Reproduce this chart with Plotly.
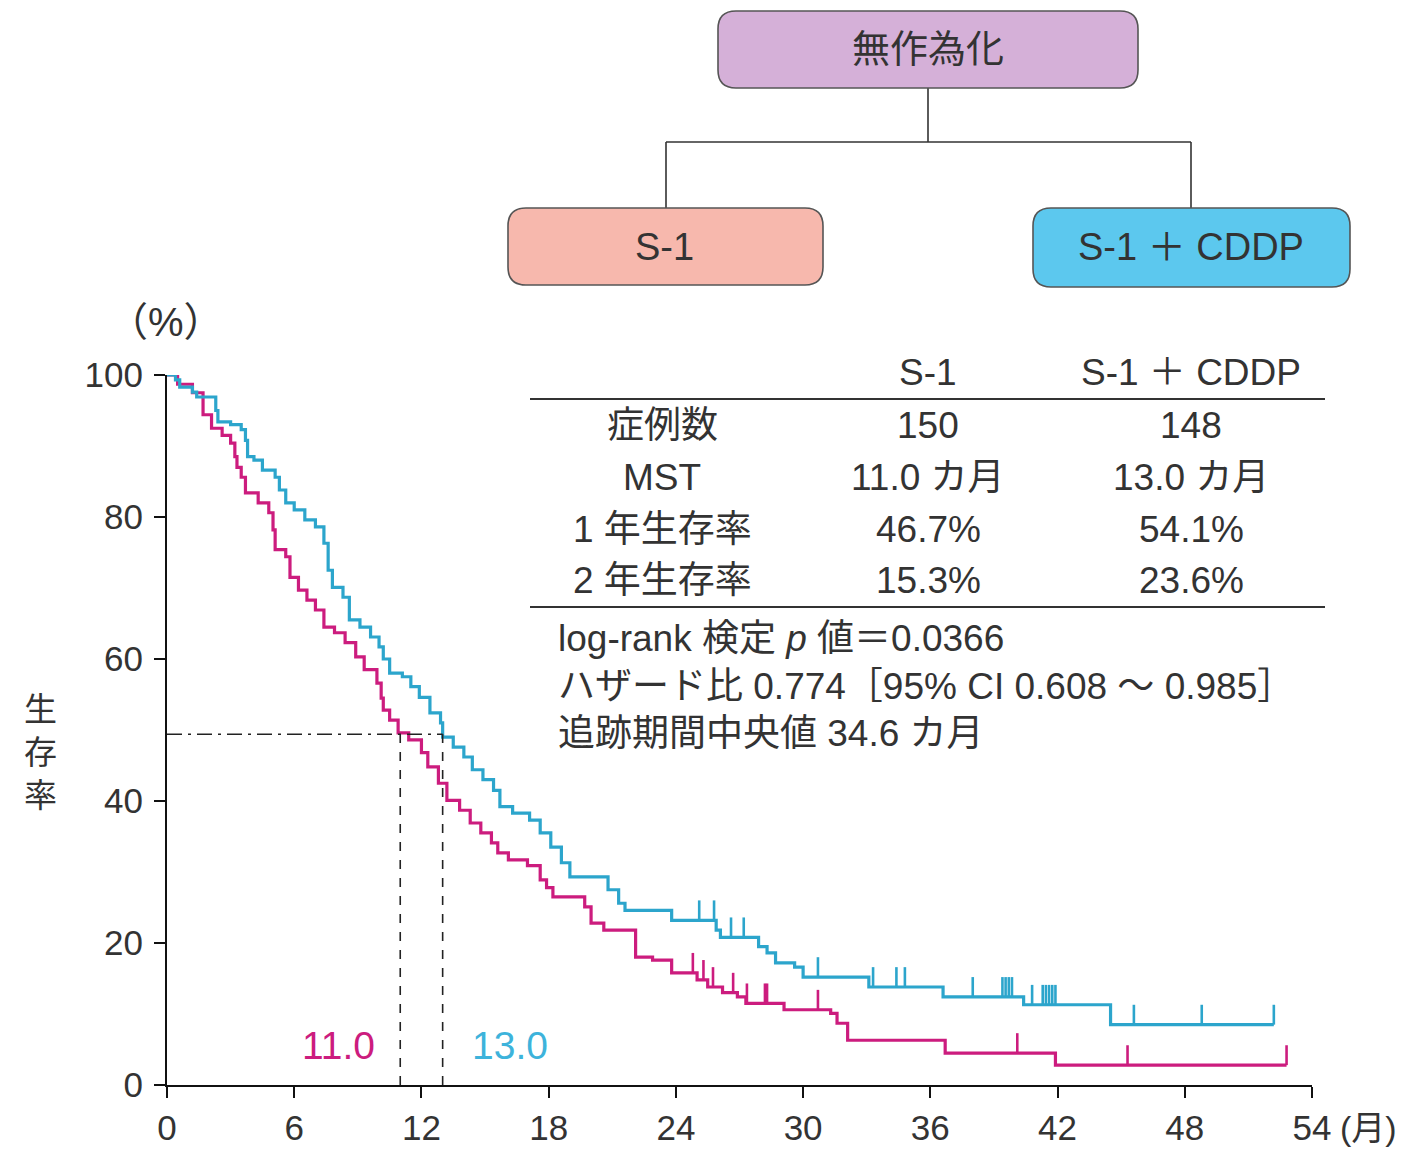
import plotly.graph_objects as go

# ---------------- data ----------------
months_ticks = [0, 6, 12, 18, 24, 30, 36, 42, 48, 54]
pct_ticks = [0, 20, 40, 60, 80, 100]

# S-1 arm: event times (months) and survival (%) after each drop
s1_times = [0.5, 1.2, 1.7, 2.1, 2.6, 3.0, 3.2, 3.3, 3.5, 3.7, 4.3, 4.8, 5.0, 5.1, 5.6,
            5.8, 6.2, 6.6, 7.0, 7.4, 7.9, 8.4, 8.9, 9.3, 9.9, 10.1, 10.2, 10.5, 10.9,
            11.4, 12.0, 12.3, 12.8, 13.2, 13.8, 14.3, 14.8, 15.3, 15.6, 16.1, 17.0,
            17.6, 17.9, 18.2, 19.7, 20.0, 20.6, 22.1, 22.9, 23.8, 25.0, 25.5, 26.2,
            26.9, 27.3, 29.1, 31.3, 31.6, 32.1, 36.7, 41.9]
s1_surv = [98.7, 97.5, 94.4, 92.5, 91.5, 90.4, 88.5, 87.0, 85.6, 83.4, 82.0, 80.6, 78.2,
           75.4, 74.4, 71.5, 69.7, 68.3, 66.9, 64.5, 63.7, 62.3, 60.3, 58.5, 56.6, 54.5,
           52.8, 51.4, 49.6, 48.6, 46.8, 44.8, 42.5, 40.1, 38.7, 36.9, 35.5, 34.1, 32.7,
           31.7, 30.9, 28.9, 27.8, 26.5, 25.1, 22.8, 21.8, 18.0, 17.6, 15.8, 14.8, 13.8,
           13.0, 12.4, 11.5, 10.6, 10.1, 8.7, 6.3, 4.5, 2.8]
s1_end = 52.8
s1_censor = [24.8, 25.3, 25.75, 26.7, 27.35, 28.2, 28.3, 30.7, 40.1, 45.3, 52.8]

# S-1 + CDDP arm
sc_times = [0.4, 0.6, 1.2, 1.4, 2.3, 2.4, 3.0, 3.5, 3.7, 3.8, 4.1, 4.5, 5.1, 5.3, 5.6,
            6.0, 6.5, 7.0, 7.4, 7.6, 7.8, 8.3, 8.6, 9.1, 9.6, 10.0, 10.2, 10.5, 11.1,
            11.5, 11.9, 12.4, 12.9, 13.0, 13.5, 14.0, 14.4, 14.9, 15.4, 15.7, 16.3,
            17.1, 17.6, 18.1, 18.6, 19.0, 20.8, 21.3, 21.6, 23.8, 25.9, 26.1, 27.9,
            28.3, 28.7, 29.6, 30.0, 33.1, 36.6, 40.4, 44.5]
sc_surv = [99.3, 98.3, 97.6, 96.9, 95.0, 93.4, 93.0, 92.3, 90.8, 88.5, 88.0, 86.6, 85.6,
           83.8, 82.0, 81.0, 79.6, 78.6, 76.3, 72.5, 70.1, 68.7, 65.5, 64.5, 63.1, 61.7,
           60.0, 58.0, 57.5, 56.1, 54.6, 52.4, 51.0, 49.0, 47.6, 46.2, 44.4, 43.0, 41.5,
           39.2, 38.3, 37.3, 35.5, 33.5, 31.3, 29.3, 27.5, 25.6, 24.6, 23.2, 21.8, 20.8,
           19.5, 18.6, 17.2, 16.6, 15.2, 13.8, 12.4, 11.3, 8.5]
sc_end = 52.2
sc_censor = [25.1, 25.8, 26.6, 27.2, 30.7, 33.3, 34.4, 34.8, 38.0, 39.4, 39.55, 39.7,
             39.85, 40.8, 41.3, 41.45, 41.6, 41.75, 41.9, 45.6, 48.8, 52.2]

median_s1 = 11.0
median_sc = 13.0
median_level = 49.4

table_cols = ["S-1", "S-1 ＋ CDDP"]
table_rows = ["症例数", "MST", "1 年生存率", "2 年生存率"]
table_s1 = ["150", "11.0 カ月", "46.7%", "15.3%"]
table_sc = ["148", "13.0 カ月", "54.1%", "23.6%"]
stats_lines = ["log-rank 検定 <i>p</i> 値＝0.0366",
               "ハザード比 0.774［95% CI 0.608 ～ 0.985］",
               "追跡期間中央値 34.6 カ月"]

box_top = "無作為化"
box_left = "S-1"
box_right = "S-1 ＋ CDDP"

# ---------------- layout helpers ----------------
W, H = 1418, 1150
L, R, T, B = 167, 1312, 375, 1085


def px(x):
    return (x - L) / (R - L)


def py(y):
    return (B - y) / (B - T)


MAG = "#CC1C7E"
CYA = "#2CA5CC"
CYA_TXT = "#3DB3DB"
TXT = "#333333"
FONT = "Liberation Sans, Arial, Noto Sans CJK JP, sans-serif"
TICK_H = 2.8


def surv_at(t, times, surv):
    v = 100.0
    for ti, si in zip(times, surv):
        if ti <= t:
            v = si
    return v


def step_xy(times, surv, end):
    xs = [0] + list(times) + [end]
    ys = [100] + list(surv) + [surv[-1]]
    return xs, ys


def censor_xy(cens, times, surv):
    xs, ys = [], []
    for c in cens:
        s = surv_at(c, times, surv)
        xs += [c, c, None]
        ys += [s, s + TICK_H, None]
    return xs, ys


fig = go.Figure()

for times, surv, end, cens, col in [(s1_times, s1_surv, s1_end, s1_censor, MAG),
                                    (sc_times, sc_surv, sc_end, sc_censor, CYA)]:
    xs, ys = step_xy(times, surv, end)
    fig.add_trace(go.Scatter(x=xs, y=ys, mode="lines", line=dict(color=col, width=3.2, shape="hv"),
                             hoverinfo="skip", showlegend=False))
    cx, cy = censor_xy(cens, times, surv)
    fig.add_trace(go.Scatter(x=cx, y=cy, mode="lines", line=dict(color=col, width=2.6),
                             hoverinfo="skip", showlegend=False))

# median dashed lines
fig.add_trace(go.Scatter(x=[0, median_sc], y=[median_level, median_level], mode="lines",
                         line=dict(color="#222", width=1.6, dash="longdashdot"),
                         hoverinfo="skip", showlegend=False))
for m in [median_s1, median_sc]:
    fig.add_trace(go.Scatter(x=[m, m], y=[0, median_level], mode="lines",
                             line=dict(color="#222", width=1.6, dash="dash"),
                             hoverinfo="skip", showlegend=False))

shapes = []
annotations = []


def rbox(x0, y0, x1, y1, fill, r=18):
    X0, X1 = px(x0), px(x1)
    Y0, Y1 = py(y0), py(y1)  # Y0 top (larger), Y1 bottom
    rx = r / (R - L)
    ry = r / (B - T)
    path = (f"M {X0+rx},{Y0} L {X1-rx},{Y0} Q {X1},{Y0} {X1},{Y0-ry} "
            f"L {X1},{Y1+ry} Q {X1},{Y1} {X1-rx},{Y1} L {X0+rx},{Y1} "
            f"Q {X0},{Y1} {X0},{Y1+ry} L {X0},{Y0-ry} Q {X0},{Y0} {X0+rx},{Y0} Z")
    shapes.append(dict(type="path", path=path, xref="paper", yref="paper",
                       fillcolor=fill, line=dict(color="#555555", width=1.6)))


def pline(x0, y0, x1, y1, color="#333333", width=1.6):
    shapes.append(dict(type="line", xref="paper", yref="paper", x0=px(x0), y0=py(y0),
                       x1=px(x1), y1=py(y1), line=dict(color=color, width=width)))


def text(x, y, s, size=37, color=TXT, xanchor="center"):
    annotations.append(dict(x=px(x), y=py(y), xref="paper", yref="paper", text=s,
                            showarrow=False, xanchor=xanchor, yanchor="middle",
                            font=dict(family=FONT, size=size, color=color)))


# flowchart
pline(928, 88, 928, 142)
pline(666, 142, 1191, 142)
pline(666, 142, 666, 208)
pline(1191, 142, 1191, 208)
rbox(718, 11, 1138, 88, "#D5B0D8")
rbox(508, 208, 823, 285, "#F7B8AD")
rbox(1033, 208, 1350, 287, "#5CC8EE")
text(928, 49, box_top, size=38)
text(664, 247, box_left, size=38)
text(1191, 247, box_right, size=38)

# table
text(928, 372, table_cols[0])
text(1191, 372, table_cols[1])
pline(530, 399, 1325, 399, width=2)
row_y = [425, 477, 529, 580]
for lab, a, b, yy in zip(table_rows, table_s1, table_sc, row_y):
    text(662, yy, lab)
    text(928, yy, a)
    text(1191, yy, b)
pline(530, 607, 1325, 607, width=2)
for s, yy in zip(stats_lines, [638, 686, 733]):
    text(556, yy, s, xanchor="left")

# axis annotations
text(166, 322, "（%）", size=40)
text(40, 752, "生<br>存<br>率", size=33)
text(1338, 1128, "(月)", size=34, xanchor="left")
text(338, 1045, f"{median_s1:.1f}", size=39, color=MAG)
text(510, 1045, f"{median_sc:.1f}", size=39, color=CYA_TXT)

fig.update_layout(
    width=W, height=H,
    margin=dict(l=L, r=W - R, t=T, b=H - B, autoexpand=False),
    paper_bgcolor="white", plot_bgcolor="white",
    shapes=shapes, annotations=annotations,
    showlegend=False,
    font=dict(family=FONT, color=TXT),
)
fig.update_xaxes(range=[0, 54], tickvals=months_ticks, ticktext=[str(v) for v in months_ticks],
                 showline=True, linecolor="#111", linewidth=2, ticks="outside", ticklen=11,
                 tickwidth=2, tickcolor="#111", showgrid=False, zeroline=False, automargin=False,
                 tickfont=dict(size=35, color=TXT, family=FONT))
fig.update_yaxes(range=[0, 100], tickvals=pct_ticks, ticktext=[str(v) for v in pct_ticks],
                 showline=True, linecolor="#111", linewidth=2, ticks="outside", ticklen=11,
                 tickwidth=2, tickcolor="#111", showgrid=False, zeroline=False, automargin=False,
                 ticklabelstandoff=4,
                 tickfont=dict(size=35, color=TXT, family=FONT))

fig.write_html("out.html")
